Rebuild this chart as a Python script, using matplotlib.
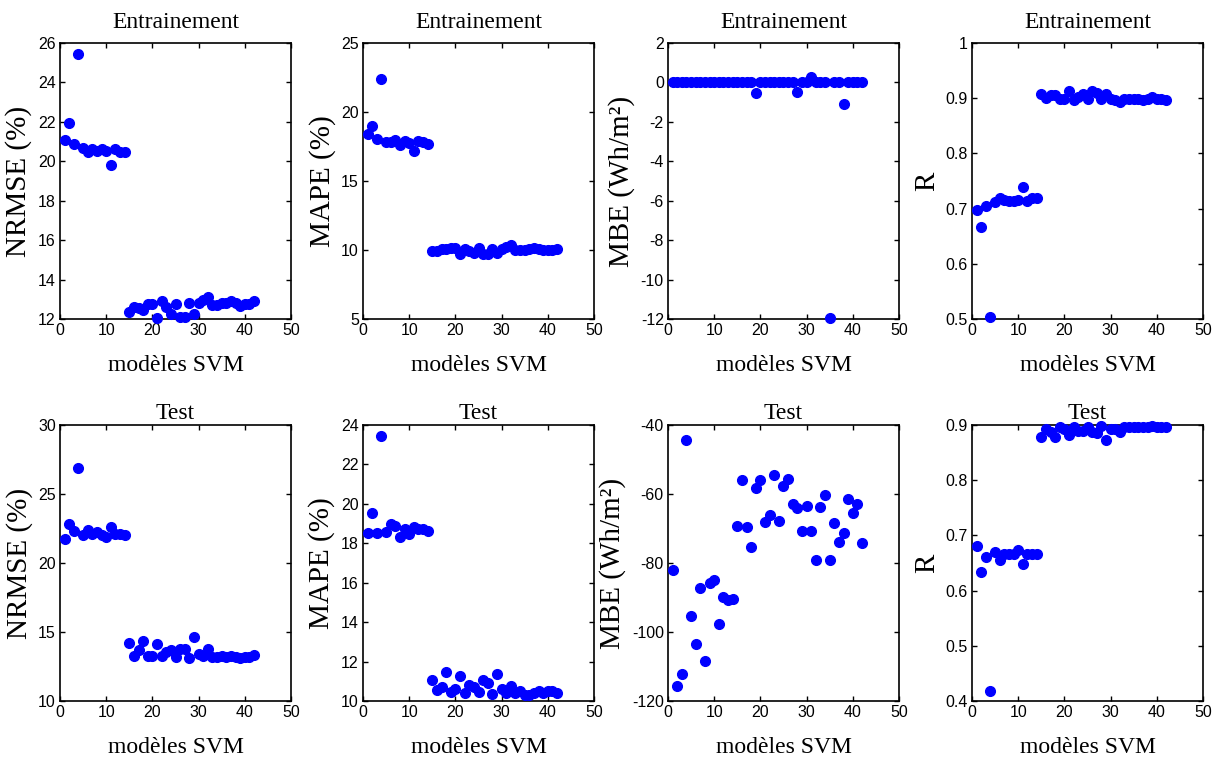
import numpy as np
import matplotlib.pyplot as plt

plt.rcParams['axes.unicode_minus'] = False

models = np.arange(1, 43)

# Entrainement
nrmse_train = [21.08, 21.95, 20.86, 25.43, 20.65, 20.45, 20.6, 20.5, 20.62, 20.52,
               19.83, 20.6, 20.45, 20.45, 12.38, 12.61, 12.55, 12.44, 12.75, 12.75,
               12.07, 12.89, 12.61, 12.26, 12.75, 12.12, 12.12, 12.8, 12.26, 12.8,
               12.97, 13.1, 12.72, 12.72, 12.8, 12.8, 12.89, 12.8, 12.67, 12.75,
               12.75, 12.89]
mape_train = [18.41, 18.95, 18.05, 22.41, 17.81, 17.81, 17.98, 17.62, 17.9, 17.74,
              17.18, 17.9, 17.81, 17.66, 9.94, 9.94, 10.04, 10.1, 10.16, 10.16,
              9.7, 10.1, 9.94, 9.8, 10.16, 9.7, 9.7, 10.1, 9.8, 10.1,
              10.23, 10.37, 9.99, 9.99, 9.99, 10.1, 10.16, 10.1, 9.99, 9.99,
              9.99, 10.1]
mbe_train = [0, 0, 0, 0, 0, 0, 0, 0, 0, 0,
             0, 0, 0, 0, 0, 0, 0, 0, -0.54, 0,
             0, 0, 0, 0, 0, 0, 0, -0.48, 0, 0,
             0.29, 0, 0, 0, -11.93, 0, 0, -1.07, 0, 0,
             0, 0]
r_train = [0.697, 0.667, 0.705, 0.504, 0.712, 0.719, 0.715, 0.713, 0.713, 0.716,
           0.739, 0.713, 0.719, 0.719, 0.907, 0.900, 0.905, 0.905, 0.899, 0.898,
           0.913, 0.896, 0.902, 0.907, 0.898, 0.913, 0.910, 0.899, 0.907, 0.899,
           0.896, 0.893, 0.899, 0.899, 0.899, 0.899, 0.896, 0.899, 0.902, 0.899,
           0.899, 0.896]

# Test
nrmse_test = [21.71, 22.85, 22.29, 26.88, 22.0, 22.41, 22.07, 22.24, 22.0, 21.85,
              22.59, 22.1, 22.1, 22.0, 14.22, 13.29, 13.71, 14.34, 13.29, 13.29,
              14.1, 13.29, 13.54, 13.66, 13.17, 13.76, 13.76, 13.12, 14.61, 13.41,
              13.29, 13.76, 13.22, 13.22, 13.29, 13.22, 13.29, 13.17, 13.1, 13.22,
              13.22, 13.34]
mape_test = [18.52, 19.56, 18.52, 23.45, 18.58, 18.96, 18.87, 18.31, 18.7, 18.45,
             18.84, 18.75, 18.75, 18.62, 11.06, 10.55, 10.73, 11.45, 10.48, 10.63,
             11.28, 10.41, 10.82, 10.73, 10.48, 11.06, 10.9, 10.34, 11.37, 10.63,
             10.41, 10.77, 10.41, 10.51, 10.31, 10.31, 10.41, 10.51, 10.41, 10.51,
             10.51, 10.41]
mbe_test = [-82.1, -115.7, -112.2, -44.4, -95.4, -103.6, -87.2, -108.3, -85.7, -84.9,
            -97.8, -89.8, -90.7, -90.3, -69.3, -56.0, -69.7, -75.5, -58.3, -56.0,
            -68.1, -66.2, -54.4, -67.7, -57.6, -55.6, -63.0, -64.2, -70.8, -63.4,
            -70.8, -79.0, -63.8, -60.3, -79.0, -68.5, -74.0, -71.2, -61.5, -65.4,
            -63.0, -74.3]
r_test = [0.681, 0.633, 0.661, 0.419, 0.670, 0.656, 0.667, 0.667, 0.667, 0.673,
          0.649, 0.667, 0.667, 0.667, 0.878, 0.893, 0.888, 0.878, 0.896, 0.893,
          0.881, 0.896, 0.890, 0.890, 0.896, 0.888, 0.885, 0.899, 0.873, 0.893,
          0.893, 0.887, 0.896, 0.896, 0.896, 0.896, 0.896, 0.896, 0.899, 0.896,
          0.896, 0.896]

titles = ["Entrainement", "Test"]
title_pads = [10.5, 4.5]
ylabels = ["NRMSE (%)", "MAPE (%)", "MBE (Wh/m²)", "R"]
rows = [[nrmse_train, mape_train, mbe_train, r_train],
        [nrmse_test, mape_test, mbe_test, r_test]]
ylims = [[(12, 26), (5, 25), (-12, 2), (0.5, 1)],
         [(10, 30), (10, 24), (-120, -40), (0.4, 0.9)]]
ysteps = [[2, 5, 2, 0.1], [5, 2, 20, 0.1]]

serif = "Liberation Serif"
sans = "Liberation Sans"

fig = plt.figure(figsize=(12.24, 7.6), dpi=100)
W, H = 1224, 760
lefts = [60, 363, 668, 972]
tops = [43, 425]
aw, ah = 231, 276

for i in range(2):
    for j in range(4):
        ax = fig.add_axes([lefts[j] / W, 1 - (tops[i] + ah) / H, aw / W, ah / H])
        # markers are not clipped at the frame, like MATLAB
        ax.plot(models, rows[i][j], 'o', color='#0000ff', mec='#0000ff', ms=7,
                clip_on=False, zorder=3)
        lo, hi = ylims[i][j]
        ax.set_xlim(0, 50)
        ax.set_ylim(lo, hi)
        ax.set_xticks(np.arange(0, 51, 10))
        ax.set_yticks(np.arange(lo, hi + ysteps[i][j] / 2, ysteps[i][j]))
        ax.yaxis.set_major_formatter(plt.FormatStrFormatter('%g'))
        ax.tick_params(direction='in', top=True, right=True, length=3.5,
                       width=1, labelsize=11.5, pad=3)
        for lab in ax.get_xticklabels() + ax.get_yticklabels():
            lab.set_family(sans)
        for sp in ax.spines.values():
            sp.set_linewidth(1.2)
        ax.set_title(titles[i], family=serif, fontsize=17, pad=title_pads[i])
        ax.set_xlabel("modèles SVM", family=serif, fontsize=17, labelpad=12)
        ax.set_ylabel(ylabels[j], family=serif, fontsize=21, labelpad=4)

fig.savefig("out.png", dpi=100)
